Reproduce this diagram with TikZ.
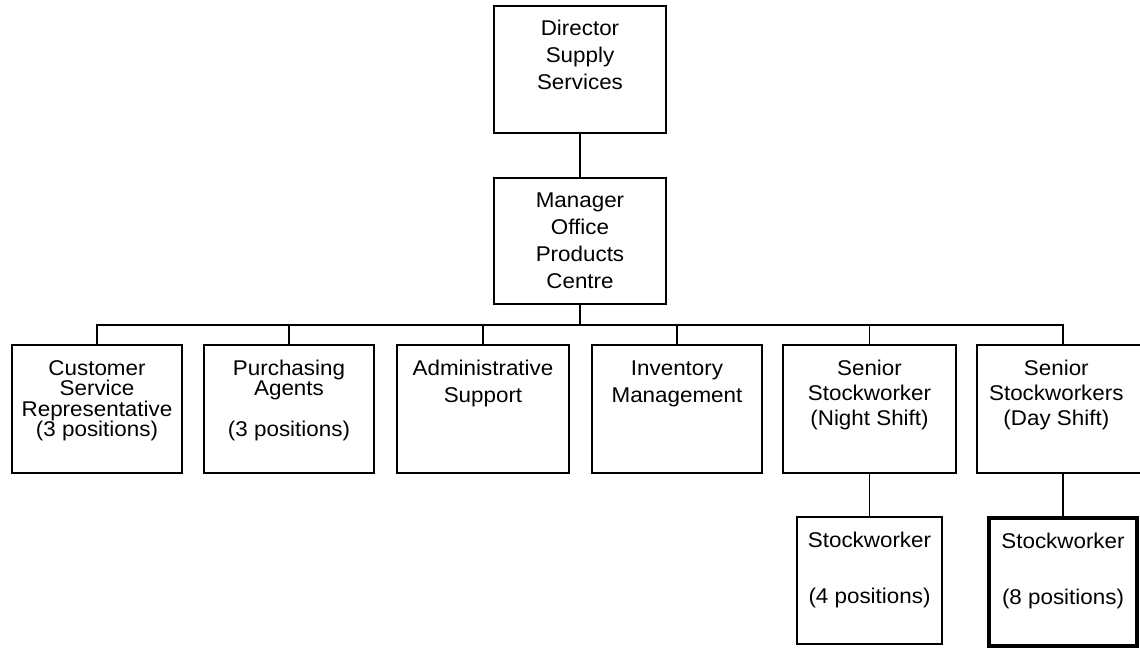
\documentclass[tikz,border=0pt]{standalone}
\usepackage{fontspec}
\setmainfont[FakeStretch=1.05]{Liberation Sans}
\begin{document}
\begin{tikzpicture}[x=0.75pt,y=-0.75pt,
  box/.style={draw, line width=1.4pt, rectangle, inner sep=0pt, outer sep=0pt},
  thickbox/.style={box, line width=3pt},
  lbl/.style={anchor=north, align=center, inner sep=0pt, font=\fontsize{16}{#1}\selectfont},
  lbl/.default=20.25pt,
  link/.style={line width=1.4pt}]
\useasboundingbox (0,0) rectangle (1140,647);
\fill[white] (0,0) rectangle (1140,647);
\clip (0,0) rectangle (1140,647);
% boxes
\node[box, minimum width=129pt, minimum height=95.25pt] (dir) at (580,69.5) {};
\node[box, minimum width=129pt, minimum height=94.5pt] (mgr) at (580,241) {};
\node[box, minimum width=127.5pt, minimum height=96pt] (b1) at (97,409) {};
\node[box, minimum width=127.5pt, minimum height=96pt] (b2) at (289,409) {};
\node[box, minimum width=129pt, minimum height=96pt] (b3) at (483,409) {};
\node[box, minimum width=127.5pt, minimum height=96pt] (b4) at (677,409) {};
\node[box, minimum width=129.75pt, minimum height=96pt] (b5) at (869.5,409) {};
\node[box, minimum width=129pt, minimum height=96pt] (b6) at (1063,409) {};
\node[box, minimum width=108.75pt, minimum height=95.25pt] (s1) at (869.5,580.5) {};
\node[thickbox, minimum width=111pt, minimum height=96pt] (s2) at (1063,582) {};
% texts
\newcommand{\fl}{\rule{0pt}{12pt}}
\node[lbl] (tdir) at ([yshift=-9.75pt]dir.north) {\fl Director\\Supply\\Services};
\node[lbl] (tmgr) at ([yshift=-9.75pt]mgr.north) {\fl Manager\\Office\\Products\\Centre};
\node[lbl=15.4pt] (tb1) at ([yshift=-10.5pt]b1.north) {\fl Customer\\Service\\Representative\\(3 positions)};
\node[lbl=15.4pt] (tb2) at ([yshift=-10.5pt]b2.north) {\fl Purchasing\\Agents\\[15pt](3 positions)};
\node[lbl] (tb3) at ([yshift=-10.5pt]b3.north) {\fl Administrative\\Support};
\node[lbl] (tb4) at ([yshift=-10.5pt]b4.north) {\fl Inventory\\Management};
\node[lbl=18.75pt] (tb5) at ([yshift=-10.5pt]b5.north) {\fl Senior\\Stockworker\\(Night Shift)};
\node[lbl=18.75pt] (tb6) at ([yshift=-10.5pt,xshift=-5pt]b6.north) {\fl Senior\\Stockworkers\\(Day Shift)};
\node[lbl] (ts1) at ([yshift=-10.5pt]s1.north) {\fl Stockworker\\[22pt](4 positions)};
\node[lbl] (ts2) at ([yshift=-10.5pt]s2.north) {\fl Stockworker\\[22pt](8 positions)};
% connectors
\coordinate (bus) at (580,325);
\draw[link] (dir.south) -- (mgr.north);
\draw[link] (mgr.south) -- (bus);
\foreach \b in {b1,b2,b3,b4,b5,b6} \draw[link] (bus) -| (\b.north);
\draw[link] (b5.south) -- (s1.north);
\draw[link] (b6.south) -- (s2.north);
\end{tikzpicture}
\end{document}
